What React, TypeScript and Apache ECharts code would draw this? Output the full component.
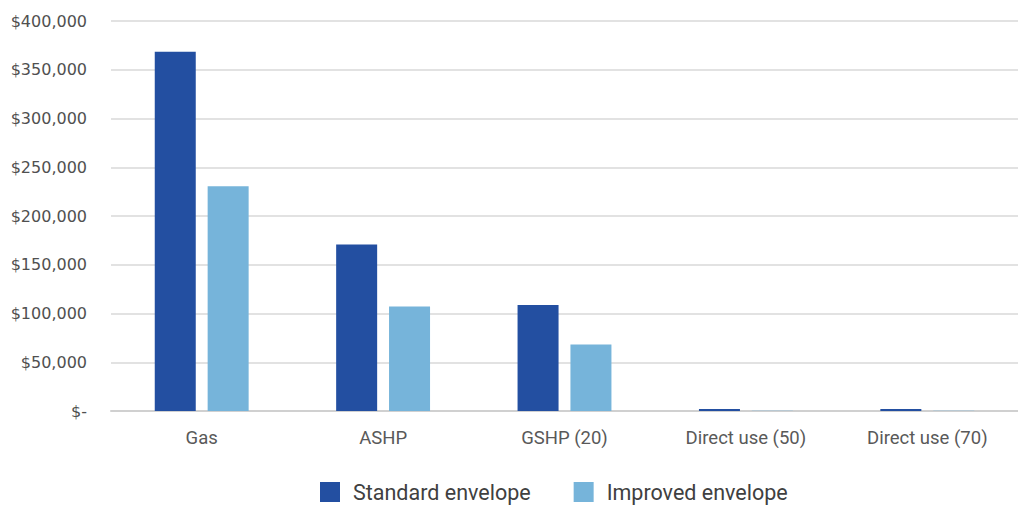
import React, { useEffect, useRef } from "react";
import * as echarts from "echarts";

const categories = ["Gas", "ASHP", "GSHP (20)", "Direct use (50)", "Direct use (70)"];
const standardEnvelope = [368500, 170800, 108600, 2000, 2000];
const improvedEnvelope = [230500, 107300, 68300, 300, 300];
const seriesNames = ["Standard envelope", "Improved envelope"];

const fmt = (v: number) => (v === 0 ? "$-" : "$" + v.toLocaleString("en-US"));

export default function App() {
  const ref = useRef<HTMLDivElement>(null);
  useEffect(() => {
    const chart = echarts.init(ref.current!, null, { renderer: "svg" });
    chart.setOption({
      animation: false,
      backgroundColor: "#ffffff",
      grid: { left: 111, right: -10, top: 21, bottom: 94, containLabel: false },
      legend: {
        left: 320,
        top: 481,
        padding: 0,
        itemWidth: 20,
        itemHeight: 20,
        itemGap: 43,
        icon: "rect",
        textStyle: { fontFamily: "Roboto", fontSize: 21.5, color: "#404040", padding: [0, 0, 0, 8] },
        data: seriesNames,
      },
      xAxis: {
        type: "category",
        data: categories,
        axisTick: { show: false },
        axisLine: { lineStyle: { color: "#d0d0d0", width: 2 } },
        axisLabel: { color: "#595959", fontFamily: "Roboto", fontSize: 18.5, margin: 17 },
      },
      yAxis: {
        type: "value",
        min: 0,
        max: 400000,
        interval: 50000,
        axisLine: { show: false },
        axisTick: { show: false },
        splitLine: { lineStyle: { color: "#d9d9d9", width: 1.5 } },
        axisLabel: {
          color: "#505050",
          fontFamily: "DejaVu Sans",
          fontSize: 16,
          margin: 24,
          formatter: (v: number) => fmt(v),
        },
      },
      series: [
        {
          name: seriesNames[0],
          type: "bar",
          data: standardEnvelope,
          barWidth: 41,
          barGap: "29%",
          itemStyle: { color: "#234FA1" },
        },
        {
          name: seriesNames[1],
          type: "bar",
          data: improvedEnvelope,
          barWidth: 41,
          itemStyle: { color: "#76B4DA" },
        },
      ],
    });
    return () => chart.dispose();
  }, []);
  return <div ref={ref} style={{ position: "fixed", left: 0, top: 0, width: 1018, height: 505 }} />;
}
